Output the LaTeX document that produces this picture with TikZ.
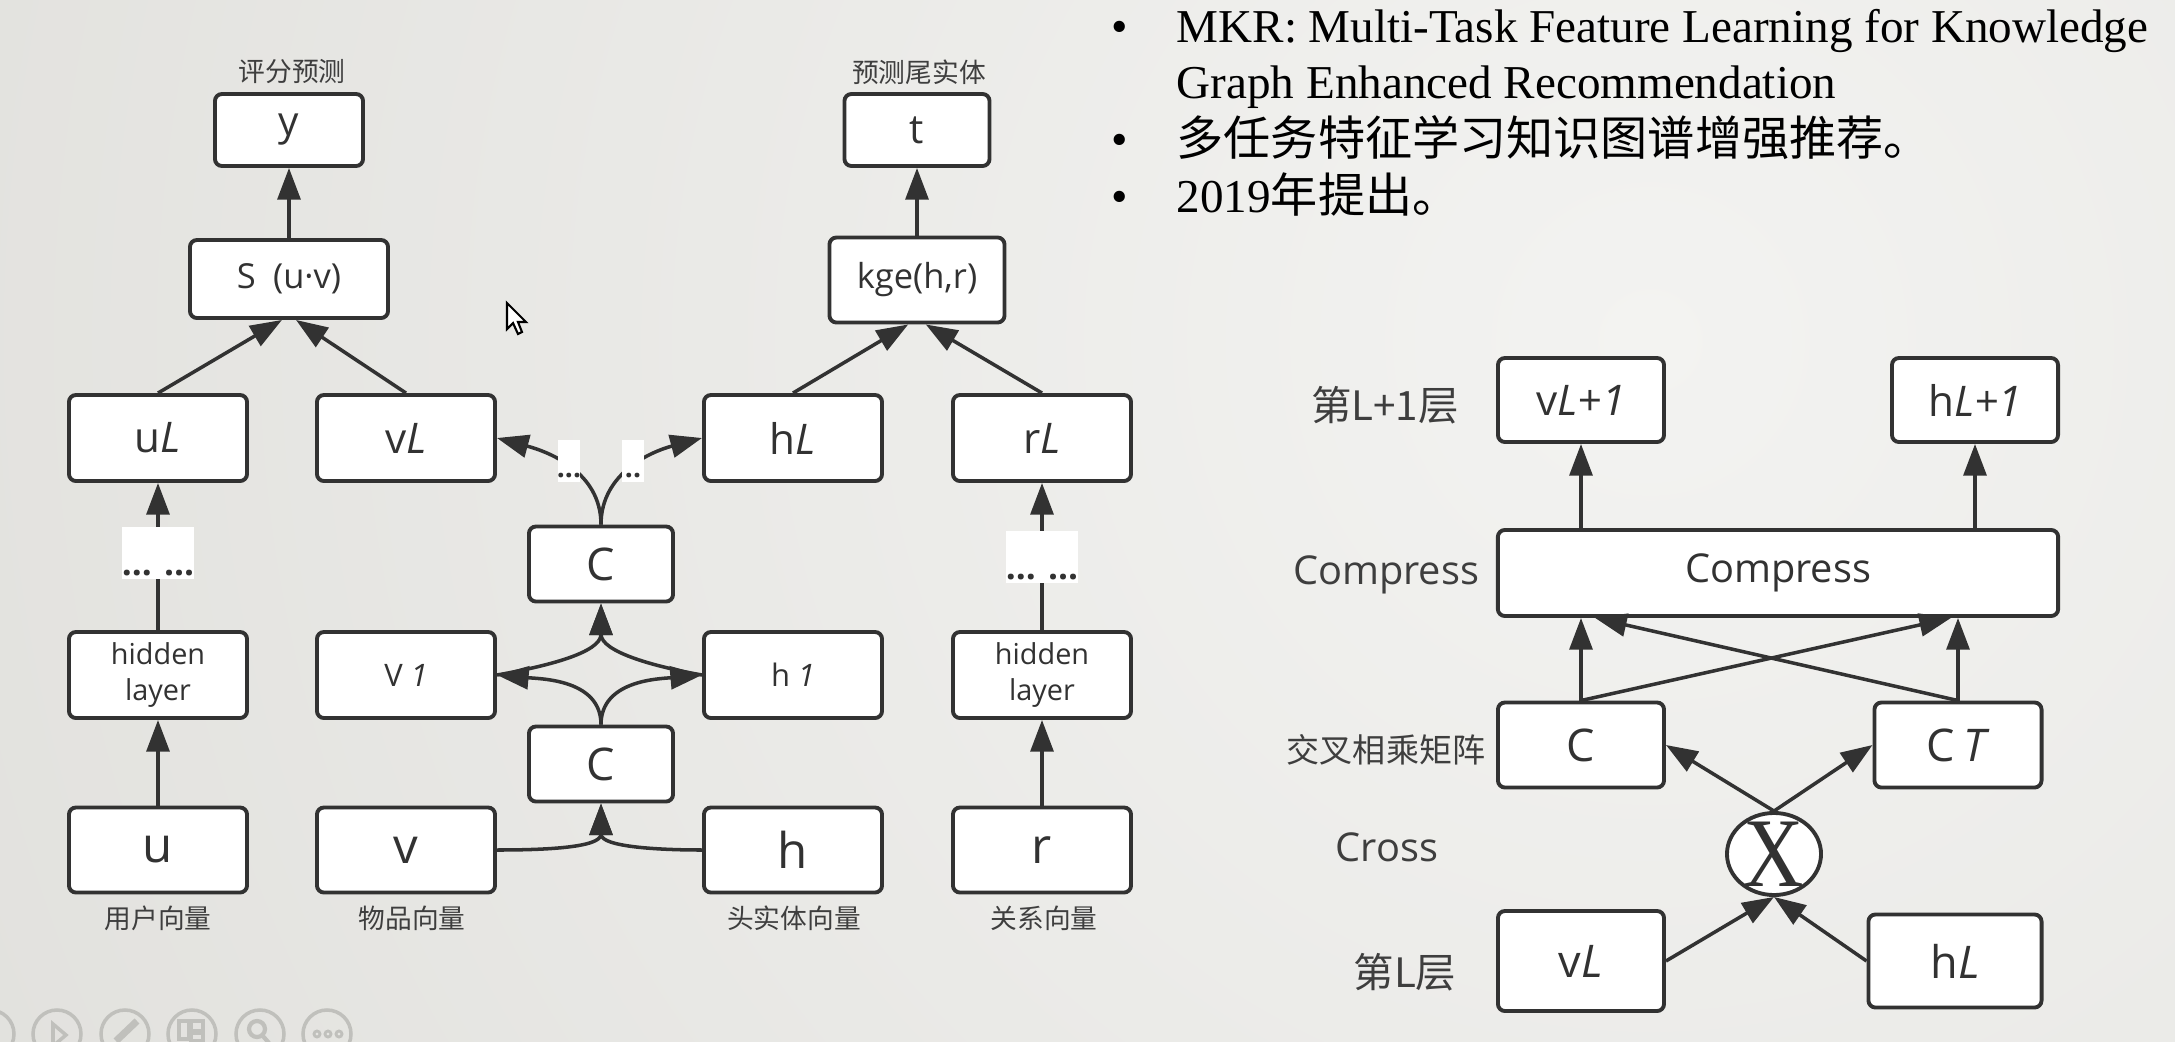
\documentclass[tikz,border=0pt]{standalone}
\usepackage{fontspec}
\setmainfont{Open Sans}
\newfontfamily\cjk{Noto Sans CJK SC}
\newfontfamily\tms{Liberation Serif}
\usetikzlibrary{arrows.meta,shapes.geometric}

\definecolor{ink}{RGB}{50,50,50}
\definecolor{labgray}{RGB}{62,62,62}
\definecolor{bgin}{RGB}{243,243,241}
\definecolor{bgout}{RGB}{211,210,205}
\definecolor{toolgray}{RGB}{192,192,188}
\newcommand{\fsz}[1]{\fontsize{#1}{#1}\selectfont}

\begin{document}
\begin{tikzpicture}[x=0.01cm,y=0.01cm,
    box/.style={draw=ink,fill=white,line width=1.1pt,rounded corners=2pt,inner sep=0pt,text=ink},
    lbox/.style={box,minimum width=1.78cm,minimum height=0.86cm},
    rbox/.style={box,minimum width=1.66cm,minimum height=0.85cm},
    patch/.style={fill=white,inner sep=0pt},
    dotstxt/.style={inner sep=1pt,anchor=south,text=ink},
    lab/.style={text=labgray,font=\cjk\fsz{7.6pt}},
    rlab/.style={text=labgray,font=\cjk\fsz{11.5pt}},
    arr/.style={draw=ink,line width=1pt,-{Triangle[length=9pt,width=6.5pt]}},
    item/.style={anchor=base west,inner sep=0pt,text=black,font=\tms\fsz{13.4pt}},
    bull/.style={anchor=base,inner sep=0pt,text=black,font=\tms\fsz{13.4pt}}]

    % background of the slide
    \useasboundingbox (0,0) rectangle (2175,1041);
    \begin{scope}
      \clip (0,0) rectangle (2175,1041);
      \shade[inner color=bgin,outer color=bgout] (1650,700) circle (3400);
    \end{scope}

    % left part: two tasks
    \node[box,minimum width=1.48cm,minimum height=0.72cm,font=\fsz{11.5pt}] (y) at (289,911) {y};
    \node[box,minimum width=1.98cm,minimum height=0.78cm,font=\fsz{9.8pt}] (s) at (289,762) {S\hspace{0.5em}(u·v)};
    \node[box,minimum width=1.45cm,minimum height=0.72cm,font=\fsz{11.5pt}] (t) at (917,911) {t};
    \node[box,minimum width=1.75cm,minimum height=0.85cm,font=\fsz{9.8pt}] (kge) at (917,761) {kge(h,r)};

    \node[lab] (laby) at (292,969) {评分预测};
    \node[lab] (labt) at (919,969) {预测尾实体};

    \node[lbox,font=\fsz{12pt}] (uL) at (158,603) {u\textit{L}};
    \node[lbox,font=\fsz{12pt}] (vL) at (406,603) {v\textit{L}};
    \node[lbox,font=\fsz{12pt}] (hL) at (793,603) {h\textit{L}};
    \node[lbox,font=\fsz{12pt}] (rL) at (1042,603) {r\textit{L}};

    \node[lbox,align=center,font={\fontsize{8.2pt}{10pt}\selectfont}] (hidU) at (158,366) {hidden\\layer};
    \node[lbox,font=\fsz{8.8pt}] (V1) at (406,366) {V\hspace{0.25em}\textit{1}};
    \node[lbox,font=\fsz{8.8pt}] (h1) at (793,366) {h\hspace{0.25em}\textit{1}};
    \node[lbox,align=center,font={\fontsize{8.2pt}{10pt}\selectfont}] (hidR) at (1042,366) {hidden\\layer};

    \node[box,minimum width=1.44cm,minimum height=0.75cm,font=\fsz{12.8pt}] (cU) at (601,477) {C};
    \node[box,minimum width=1.44cm,minimum height=0.75cm,font=\fsz{12.8pt}] (cD) at (601,277) {C};

    \node[lbox,minimum height=0.85cm,font=\fsz{14pt}] (u) at (158,191) {u};
    \node[lbox,minimum height=0.85cm,font=\fsz{14pt}] (v) at (406,191) {v};
    \node[lbox,minimum height=0.85cm,font=\fsz{14pt}] (h) at (793,191) {h};
    \node[lbox,minimum height=0.85cm,font=\fsz{14pt}] (r) at (1042,191) {r};

    \node[lab] (labu) at (158,123) {用户向量};
    \node[lab] (labv) at (412,123) {物品向量};
    \node[lab] (labh) at (794,123) {头实体向量};
    \node[lab] (labr) at (1044,123) {关系向量};

    \draw[arr] (s) -- (y);
    \draw[arr] (kge) -- (t);
    \draw[arr] (uL.north) -- ([xshift=-2pt]s.south);
    \draw[arr] (vL.north) -- ([xshift=2pt]s.south);
    \draw[arr] (hL.north) -- ([xshift=-2.5pt]kge.south);
    \draw[arr] (rL.north) -- ([xshift=2.5pt]kge.south);
    \draw[arr] (u) -- (hidU);
    \draw[arr] (hidU) -- (uL);
    \draw[arr] (r) -- (hidR);
    \draw[arr] (hidR) -- (rL);

    \draw[arr] (cU.north) to[out=90,in=-15] (vL.east);
    \draw[arr] (cU.north) to[out=90,in=195] (hL.west);
    \draw[arr] (cD.north) to[out=90,in=-5] (V1.east);
    \draw[arr] (cD.north) to[out=90,in=185] (h1.west);
    \draw[arr] (V1.east) to[out=10,in=-90] (cU.south);
    \draw[arr] (h1.west) to[out=170,in=-90] (cU.south);
    \draw[arr] (v.east) to[out=0,in=-90] (cD.south);
    \draw[arr] (h.west) to[out=180,in=-90] (cD.south);

    % white patches with dots
    \node[patch,minimum width=0.72cm,minimum height=0.52cm] (dotU) at (158,488) {};
    \node[dotstxt,font=\fsz{10pt}\bfseries] (dotUt) at (dotU.south) {... ...};
    \node[patch,minimum width=0.72cm,minimum height=0.52cm] (dotR) at (1042,484) {};
    \node[dotstxt,font=\fsz{10pt}\bfseries] (dotRt) at (dotR.south) {... ...};
    \node[patch,minimum width=0.22cm,minimum height=0.41cm] (dotA) at (569,580) {};
    \node[dotstxt,font=\fsz{8pt}\bfseries] (dotAt) at (dotA.south) {...};
    \node[patch,minimum width=0.22cm,minimum height=0.41cm] (dotB) at (633,580) {};
    \node[dotstxt,font=\fsz{8pt}\bfseries] (dotBt) at (dotB.south) {..};

    % right part: cross and compress unit
    \node[rbox,minimum height=0.84cm,font=\fsz{12pt}] (vLp) at (1581,641) {v\textit{L+1}};
    \node[rbox,minimum height=0.84cm,font=\fsz{12pt}] (hLp) at (1975,641) {h\textit{L+1}};
    \node[box,minimum width=5.60cm,minimum height=0.86cm,font=\fsz{11.3pt}] (comp) at (1778,468) {Compress};
    \node[rbox,font=\fsz{12.8pt}] (cm) at (1581,296) {C};
    \node[rbox,minimum width=1.67cm,font=\fsz{12.8pt}] (cmt) at (1958,296) {C\hspace{0.2em}\textit{T}};
    \node[ellipse,draw=ink,fill=white,line width=1.1pt,minimum width=0.94cm,minimum height=0.82cm,inner sep=0pt] (cross) at (1774,187) {};
    \node[inner sep=0pt,text=ink,font=\tms\fsz{28pt}] (crossx) at (cross) {\scalebox{0.85}[1]{X}};
    \node[rbox,minimum height=1.00cm,font=\fsz{12.8pt}] (vLr) at (1581,80) {v\textit{L}};
    \node[rbox,minimum width=1.73cm,minimum height=0.93cm,font=\fsz{12.8pt}] (hLr) at (1955,80) {h\textit{L}};

    \node[rlab] (labnext) at (1385,636) {第L+1层};
    \node[text=labgray,font=\fsz{11.3pt}] (labcomp) at (1386,466) {Compress};
    \node[text=labgray,font=\cjk\fsz{9.4pt}] (labmat) at (1386,291) {交叉相乘矩阵};
    \node[text=labgray,font=\fsz{11.3pt}] (labcross) at (1387,194) {Cross};
    \node[rlab] (labcur) at (1405,69) {第L层};

    \draw[arr] (comp.north -| vLp) -- (vLp);
    \draw[arr] (comp.north -| hLp) -- (hLp);
    \draw[arr] (cm) -- (cm |- comp.south);
    \draw[arr] (cmt) -- (cmt |- comp.south);
    \draw[arr] (cm.north) -- ([xshift=-2pt]cmt.north |- comp.south);
    \draw[arr] (cmt.north) -- ([xshift=4pt]cm.north |- comp.south);
    \draw[arr] (cross.north) -- (cm.east);
    \draw[arr] (cross.north) -- (cmt.west);
    \draw[arr] (vLr.east) -- (cross.south);
    \draw[arr] (hLr.west) -- (cross.south);

    % bullet text
    \node[bull] (b1) at (1120,999) {•};
    \node[item] (i1) at (1176,999) {MKR: Multi-Task Feature Learning for Knowledge};
    \node[item] (i1b) at (1176,943) {Graph Enhanced Recommendation};
    \node[bull] (b2) at (1120,886) {•};
    \node[item] (i2) at (1176,886) {\cjk 多任务特征学习知识图谱增强推荐。};
    \node[bull] (b3) at (1120,829) {•};
    \node[item] (i3) at (1176,829) {2019{\cjk 年提出。}};

    % mouse pointer
    \draw[fill=white,line width=0.6pt] (507,738) -- (507,712) -- (513,718) -- (518,707)
      -- (522,709) -- (518,719) -- (526,719) -- cycle;

    % slide show toolbar
    \foreach \cx in {-10,57,125,192,260,327}
      \draw[toolgray,line width=1pt] (\cx,7) circle (24);
    \draw[toolgray,line width=1pt] (53,-5) -- (53,17) -- (66,6) -- cycle;
    \draw[toolgray,line width=2pt] (116,0) -- (137,20);
    \draw[toolgray,line width=1pt] (179,2) rectangle (189,20) (191,10) rectangle (203,20) (191,0) rectangle (203,8);
    \draw[toolgray,line width=1.2pt] (257,12) circle (8) (262,6) -- (269,-2);
    \foreach \dx in {317,328,339}
      \draw[toolgray,line width=0.8pt] (\dx,7) circle (3);
\end{tikzpicture}
\end{document}
